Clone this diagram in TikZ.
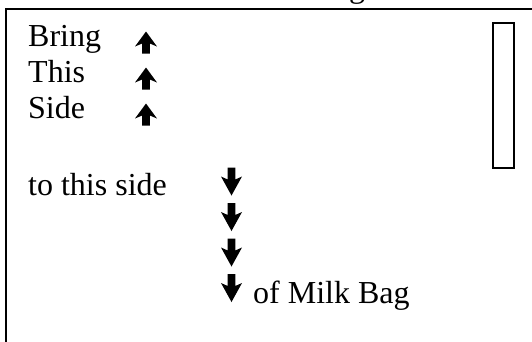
\documentclass[tikz,border=0pt]{standalone}
\usepackage{fontspec}
\setmainfont{Liberation Serif}
\begin{document}
\begin{tikzpicture}[x=1pt,y=-1pt,
  txt/.style={font=\fontsize{32}{37}\selectfont, inner sep=0pt, anchor=base west},
  frameline/.style={line width=2pt, black},
  slotbox/.style={draw, line width=1.8pt, minimum width=21pt, minimum height=145pt, inner sep=0pt},
  uparrow/.pic={\fill (-3.8,0) -- (3.8,0) -- (3.8,-10) -- (11,-7) -- (0,-22) -- (-11,-7) -- (-3.8,-10) -- cycle;},
  downarrow/.pic={\fill (-3.8,-28) -- (3.8,-28) -- (3.8,-16) -- (10.5,-19) -- (0,0) -- (-10.5,-19) -- (-3.8,-16) -- cycle;}
]
\useasboundingbox (0,0) rectangle (532,341);
\begin{scope}
\clip (0,0) rectangle (532,341);
\node[txt] (title) at (349,-2.5) {g};
\end{scope}
\draw[frameline] (533,8.5) -- (6,8.5) -- (6,342);
\node[slotbox] (slot) at (503.5,95.5) {};
\node[txt] (bring) at (28,46.5) {Bring};
\node[txt] (this) at (28,82.5) {This};
\node[txt] (side) at (28,118.5) {Side};
\node[txt] (tothis) at (28,195) {to this side};
\node[txt] (milk) at (253,303) {of Milk Bag};
\pic at (146,53.5) {uparrow};
\pic at (146,89.5) {uparrow};
\pic at (146,125.5) {uparrow};
\pic at (231.5,195.5) {downarrow};
\pic at (231.5,231) {downarrow};
\pic at (231.5,266.5) {downarrow};
\pic at (231.5,302) {downarrow};
\end{tikzpicture}
\end{document}
